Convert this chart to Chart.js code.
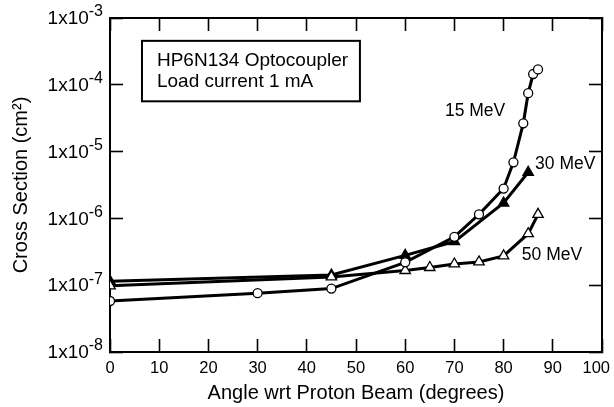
<!DOCTYPE html>
<html>
<head>
<meta charset="utf-8">
<script src="https://cdn.jsdelivr.net/npm/chart.js@4.4.1/dist/chart.umd.min.js"></script>
<style>
  html, body { margin: 0; padding: 0; background: #fff; overflow: hidden; }
  #wrap { width: 614px; height: 407px; }
  canvas { display: block; }
</style>
</head>
<body>
<div id="wrap"><canvas id="chart" width="614" height="407"></canvas></div>
<script>
// angles (degrees) and cross sections (cm^2)
const angles15 = [0, 30, 45, 60, 70, 75, 80, 82, 84, 85, 86, 87];
const sigma15 = [5.8e-8, 7.6e-8, 8.9e-8, 2.2e-7, 5.3e-7, 1.15e-6, 2.8e-6, 6.9e-6, 2.65e-5, 7.5e-5, 1.45e-4, 1.7e-4];

const angles30 = [0, 45, 60, 70, 80, 85];
const sigma30 = [1.15e-7, 1.42e-7, 2.8e-7, 4.5e-7, 1.7e-6, 4.9e-6];

const angles50 = [0, 45, 60, 65, 70, 75, 80, 85, 87];
const sigma50 = [9.8e-8, 1.33e-7, 1.66e-7, 1.84e-7, 2.08e-7, 2.23e-7, 2.75e-7, 5.9e-7, 1.15e-6];

const xTicks = [0, 10, 20, 30, 40, 50, 60, 70, 80, 90, 100];
const yExponents = [-8, -7, -6, -5, -4, -3];

const seriesLabels = ['15 MeV', '30 MeV', '50 MeV'];
const labelAngles = [74.2, 86.4, 83.7];
const labelSigmas = [4.0e-5, 6.4e-6, 2.84e-7];

const legendLines = ['HP6N134 Optocoupler', 'Load current 1 mA'];

const FONT = '"Liberation Sans", Arial, Helvetica, sans-serif';

function pts(xs, ys) {
  return xs.map((x, i) => ({ x: x, y: ys[i] }));
}

// inward tick marks on all four sides, box drawn by the axis borders
const tickGrid = { display: true, drawOnChartArea: false, drawTicks: true, tickLength: -13, tickWidth: 1.6, tickColor: '#000', color: '#000' };
const axisBorder = { display: true, color: '#000', width: 2 };

function xAxis(extra) {
  return Object.assign({
    type: 'linear', min: 0, max: 100,
    afterBuildTicks: s => { s.ticks = xTicks.map(v => ({ value: v })); },
    grid: tickGrid, border: axisBorder,
    ticks: { display: false }
  }, extra);
}

function yAxis(extra) {
  return Object.assign({
    type: 'logarithmic', min: 1e-8, max: 1e-3,
    afterBuildTicks: s => { s.ticks = yExponents.map(e => ({ value: Math.pow(10, e) })); },
    grid: tickGrid, border: axisBorder,
    ticks: { display: false }
  }, extra);
}

// tick labels (1x10 with superscript), curve labels, legend box
const labels = {
  id: 'labels',
  afterDraw(chart) {
    const ctx = chart.ctx;
    const a = chart.chartArea;
    const xs = chart.scales.x;
    const ys = chart.scales.y;
    ctx.save();
    ctx.fillStyle = '#000';
    ctx.strokeStyle = '#000';

    // x tick labels
    ctx.font = '16.5px ' + FONT;
    ctx.textBaseline = 'middle';
    xTicks.forEach(v => {
      const px = xs.getPixelForValue(v);
      const w = ctx.measureText(String(v)).width;
      if (px + w / 2 > chart.width - 3) {
        ctx.textAlign = 'right';
        ctx.fillText(String(v), chart.width - 4, a.bottom + 16);
      } else {
        ctx.textAlign = 'center';
        ctx.fillText(String(v), px, a.bottom + 16);
      }
    });

    // y tick labels 1x10^n
    yExponents.forEach(e => {
      const py = ys.getPixelForValue(Math.pow(10, e));
      const base = '1x10';
      const sup = String(e);
      ctx.font = '19px ' + FONT;
      const wb = ctx.measureText(base).width;
      ctx.font = '16px ' + FONT;
      const ws = ctx.measureText(sup).width;
      const right = a.left - 7;
      ctx.textAlign = 'left';
      ctx.font = '19px ' + FONT;
      ctx.fillText(base, right - ws - wb, py + 1);
      ctx.font = '16px ' + FONT;
      ctx.fillText(sup, right - ws, py - 6);
    });

    // curve labels
    ctx.font = '17.5px ' + FONT;
    seriesLabels.forEach((t, i) => {
      ctx.textAlign = i === 0 ? 'center' : 'left';
      ctx.fillText(t, xs.getPixelForValue(labelAngles[i]), ys.getPixelForValue(labelSigmas[i]));
    });

    // legend box
    const bx = xs.getPixelForValue(6.5);
    const bx2 = xs.getPixelForValue(50.8);
    const by = ys.getPixelForValue(4.55e-4);
    const by2 = ys.getPixelForValue(5.66e-5);
    ctx.lineWidth = 2;
    ctx.strokeRect(bx, by, bx2 - bx, by2 - by);
    ctx.font = '19px ' + FONT;
    ctx.textAlign = 'left';
    ctx.textBaseline = 'alphabetic';
    legendLines.forEach((t, i) => {
      ctx.fillText(t, bx + 15, by + 25.5 + i * 20.5);
    });
    ctx.restore();
  }
};

const pointDefaults = {
  borderColor: '#000',
  borderWidth: 3,
  pointBorderWidth: 1.3,
  pointBorderColor: '#000',
  tension: 0,
  fill: false,
  showLine: true,
  xAxisID: 'x',
  yAxisID: 'y'
};

new Chart(document.getElementById('chart'), {
  type: 'scatter',
  data: {
    datasets: [
      Object.assign({}, pointDefaults, {
        label: seriesLabels[0],
        data: pts(angles15, sigma15),
        pointStyle: 'circle',
        pointRadius: 4.5,
        pointBackgroundColor: '#fff'
      }),
      Object.assign({}, pointDefaults, {
        label: seriesLabels[2],
        data: pts(angles50, sigma50),
        pointStyle: 'triangle',
        pointRadius: 6,
        pointBackgroundColor: '#fff'
      }),
      Object.assign({}, pointDefaults, {
        label: seriesLabels[1],
        data: pts(angles30, sigma30),
        pointStyle: 'triangle',
        pointRadius: 6,
        pointBackgroundColor: '#000'
      })
    ]
  },
  options: {
    responsive: false,
    animation: false,
    devicePixelRatio: 1,
    layout: { padding: 0 },
    plugins: {
      legend: { display: false },
      tooltip: { enabled: false }
    },
    scales: {
      x: xAxis({
        position: 'bottom',
        afterFit: s => { s.height = 55; },
        title: {
          display: true,
          text: 'Angle wrt Proton Beam (degrees)',
          color: '#000',
          font: { family: FONT, size: 20 },
          padding: { top: 0, bottom: 2 }
        }
      }),
      x2: xAxis({
        position: 'top',
        afterFit: s => { s.height = 18; }
      }),
      y: yAxis({
        position: 'left',
        afterFit: s => { s.width = 110; },
        title: {
          display: true,
          text: 'Cross Section (cm²)',
          color: '#000',
          font: { family: FONT, size: 20 },
          padding: { top: 9, bottom: 0 }
        }
      }),
      y2: yAxis({
        position: 'right',
        afterFit: s => { s.width = 12; }
      })
    }
  },
  plugins: [labels]
});
</script>
</body>
</html>
